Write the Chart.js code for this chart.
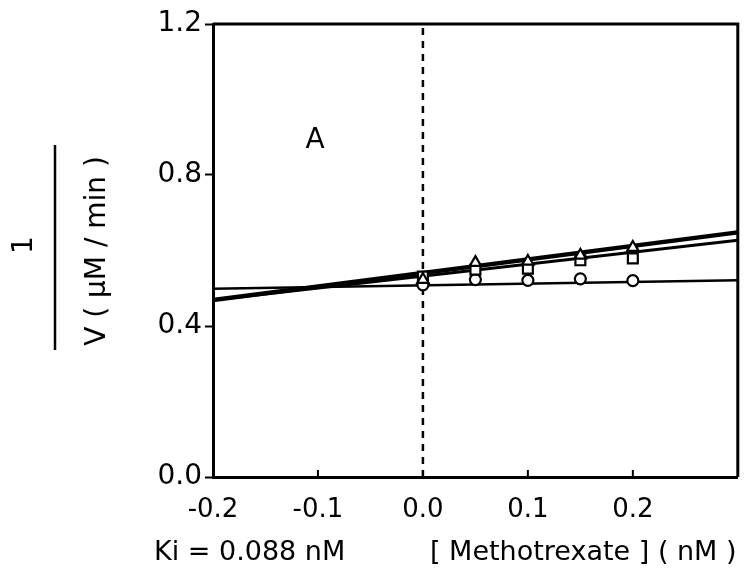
<!DOCTYPE html>
<html>
<head>
<meta charset="utf-8">
<script src="https://cdn.jsdelivr.net/npm/chart.js@4.4.1/dist/chart.umd.min.js"></script>
<style>
  html, body { margin: 0; padding: 0; background: #fff; }
  canvas { display: block; }
</style>
</head>
<body>
<canvas id="kiChart" width="747" height="573"></canvas>
<script>
// Methotrexate concentrations (nM)
const concentrations = [0, 0.05, 0.1, 0.15, 0.2];

// 1/V values
const circleValues = [0.509, 0.523, 0.521, 0.525, 0.520];
const squareValues = [0.531, 0.549, 0.552, 0.574, 0.579];
const triangleValues = [0.523, 0.568, 0.571, 0.587, 0.608];

// fitted lines, end points at the plot edges
const fitX = [-0.2, 0.3];
const circleFit = [0.499, 0.521];
const squareFit = [0.469, 0.627];
const triangleFit = [0.469, 0.648];

// dashed line at zero
const zeroX = [0, 0];
const zeroY = [0, 1.2];

const xTicks = [-0.2, -0.1, 0.0, 0.1, 0.2];
const yTicks = [0.0, 0.4, 0.8, 1.2];

const FONT = 'DejaVu Sans';

function toPoints(xs, ys) {
    return xs.map((x, i) => ({ x: x, y: ys[i] }));
}

function markerSet(values, style, radius, order) {
    return {
        data: toPoints(concentrations, values),
        pointStyle: style,
        pointRadius: radius,
        pointBackgroundColor: '#fff',
        pointBorderColor: '#000',
        pointBorderWidth: 2.2,
        showLine: false,
        order: order
    };
}

function fitSet(values, width, order) {
    return {
        data: toPoints(fitX, values),
        borderColor: '#000',
        borderWidth: width,
        pointRadius: 0,
        showLine: true,
        order: order
    };
}

// frame, inner x ticks and loose text
const decorations = {
    id: 'decorations',
    afterDraw(chart) {
        const ctx = chart.ctx;
        const area = chart.chartArea;
        const xs = chart.scales.x;
        ctx.save();
        ctx.strokeStyle = '#000';
        ctx.lineWidth = 3;
        ctx.beginPath();
        ctx.moveTo(area.left, area.top);
        ctx.lineTo(area.right, area.top);
        ctx.lineTo(area.right, area.bottom);
        ctx.stroke();

        ctx.lineWidth = 2;
        xTicks.forEach(v => {
            const px = xs.getPixelForValue(v);
            ctx.beginPath();
            ctx.moveTo(px, area.bottom);
            ctx.lineTo(px, area.bottom - 7);
            ctx.stroke();
        });

        ctx.fillStyle = '#000';
        ctx.textBaseline = 'middle';
        ctx.font = '28px "' + FONT + '"';
        ctx.textAlign = 'center';
        ctx.fillText('A', 315, 141);
        ctx.font = '27px "' + FONT + '"';
        ctx.textAlign = 'left';
        ctx.fillText('Ki = 0.088 nM', 154, 553);
        ctx.fillText('[ Methotrexate ] ( nM )', 430, 553);

        // 1 / V ( µM / min ) as a rotated fraction
        ctx.font = '28px "' + FONT + '"';
        ctx.save();
        ctx.translate(25, 245);
        ctx.rotate(-Math.PI / 2);
        ctx.textAlign = 'center';
        ctx.fillText('1', 0, 0);
        ctx.restore();

        ctx.lineWidth = 2.5;
        ctx.beginPath();
        ctx.moveTo(55, 145);
        ctx.lineTo(55, 350);
        ctx.stroke();

        ctx.save();
        ctx.translate(98, 251);
        ctx.rotate(-Math.PI / 2);
        ctx.textAlign = 'center';
        ctx.fillText('V ( \u00B5M / min )', 0, 0);
        ctx.restore();

        ctx.restore();
    }
};

new Chart(document.getElementById('kiChart'), {
    type: 'scatter',
    data: {
        datasets: [
            markerSet(triangleValues, 'triangle', 6.5, 1),
            markerSet(squareValues, 'rect', 7, 2),
            markerSet(circleValues, 'circle', 5.5, 3),
            fitSet(triangleFit, 4.5, 4),
            fitSet(squareFit, 3, 5),
            fitSet(circleFit, 2.5, 6),
            {
                data: toPoints(zeroX, zeroY),
                borderColor: '#000',
                borderWidth: 2.5,
                borderDash: [7, 6],
                pointRadius: 0,
                showLine: true,
                order: 7
            }
        ]
    },
    options: {
        responsive: false,
        animation: false,
        layout: { padding: { top: 24, right: 5, left: 0, bottom: 0 } },
        plugins: {
            legend: { display: false },
            tooltip: { enabled: false }
        },
        scales: {
            x: {
                type: 'linear',
                min: -0.2,
                max: 0.3,
                afterFit: scale => { scale.height = 96; },
                afterBuildTicks: scale => { scale.ticks = xTicks.map(v => ({ value: v })); },
                border: { color: '#000', width: 3 },
                grid: { display: false, drawTicks: false },
                ticks: {
                    color: '#000',
                    padding: 18,
                    font: { family: FONT, size: 26 },
                    callback: v => v.toFixed(1)
                }
            },
            y: {
                type: 'linear',
                min: 0,
                max: 1.2,
                afterFit: scale => { scale.width = 213; },
                afterBuildTicks: scale => { scale.ticks = yTicks.map(v => ({ value: v })); },
                border: { color: '#000', width: 3 },
                grid: { drawOnChartArea: false, tickLength: 8, tickWidth: 2, tickColor: '#000' },
                ticks: {
                    color: '#000',
                    padding: 3,
                    font: { family: FONT, size: 28 },
                    callback: v => v.toFixed(1)
                }
            }
        }
    },
    plugins: [decorations]
});
</script>
</body>
</html>
